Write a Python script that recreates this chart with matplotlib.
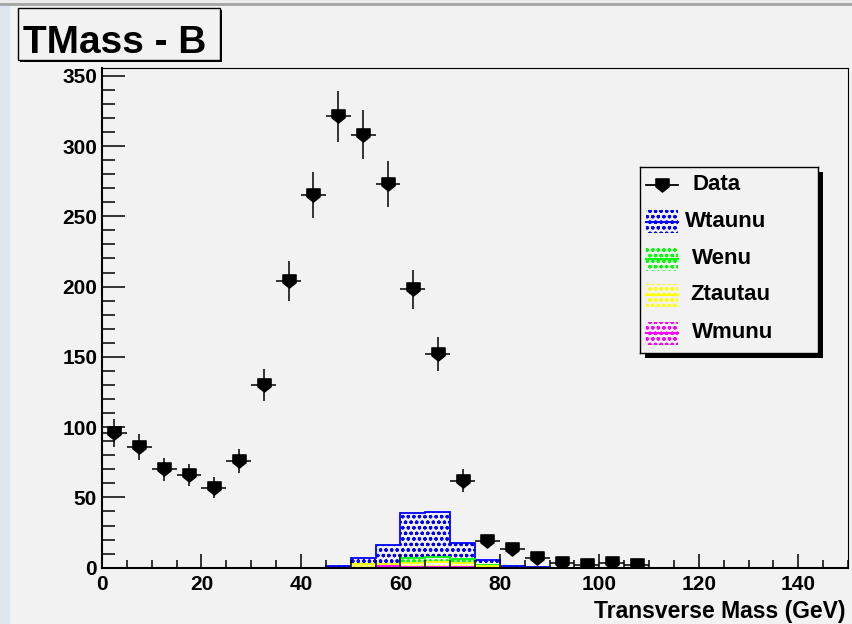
import numpy as np
import matplotlib
matplotlib.use("Agg")
import matplotlib.pyplot as plt
from matplotlib.path import Path
from matplotlib.patches import Rectangle
from matplotlib.lines import Line2D
from matplotlib.ticker import MultipleLocator

# data histogram (5 GeV bins)
data_x = [2.5, 7.5, 12.5, 17.5, 22.5, 27.5, 32.5, 37.5, 42.5, 47.5, 52.5,
          57.5, 62.5, 67.5, 72.5, 77.5, 82.5, 87.5, 92.5, 97.5, 102.5, 107.5]
data_y = [96, 86, 70, 66, 57, 76, 130, 204, 265, 321, 308,
          273, 198, 152, 62, 19, 13, 7, 3, 2, 3, 2]

# MC stack, bins 45..90
mc_edges = [45, 50, 55, 60, 65, 70, 75, 80, 85, 90]
wmunu = [0, 0, 1.5, 0.3, 0.3, 0.2, 0, 0, 0]
ztautau = [0, 2.5, 1.0, 3.0, 3.5, 3.0, 1.5, 0, 0]
wenu = [0, 0, 0.3, 3.5, 4.0, 2.7, 0.3, 0, 0]
wtaunu = [1.5, 4.5, 13.2, 32, 32, 12, 4, 1, 0.5]

x_ticks = [0, 20, 40, 60, 80, 100, 120, 140]
y_ticks = [0, 50, 100, 150, 200, 250, 300, 350]

BG = '#f2f2f2'
W, H = 852, 624

plt.rcParams['font.family'] = ['Liberation Sans', 'DejaVu Sans']
plt.rcParams['font.weight'] = 'bold'
plt.rcParams['hatch.linewidth'] = 0.9


def px(x0, y0, x1, y1):
    return [x0 / W, 1 - y1 / H, (x1 - x0) / W, (y1 - y0) / H]


def fig_rect(x0, y0, x1, y1, **kw):
    r = Rectangle((x0 / W, 1 - y1 / H), (x1 - x0) / W, (y1 - y0) / H,
                  transform=fig.transFigure, **kw)
    fig.add_artist(r)
    return r


fig = plt.figure(figsize=(W / 100, H / 100), dpi=100, facecolor=BG)

# window decorations of the screenshot
fig_rect(0, 0, 10, H, facecolor='#dde5ef', edgecolor='none')
fig_rect(0, 0, W, 3, facecolor='#ececec', edgecolor='none')
fig_rect(0, 3, W, 6, facecolor='#a8a8a8', edgecolor='none')

ax = fig.add_axes(px(102, 68, 848, 567.7))
ax.set_facecolor(BG)

# stacked MC, drawn ROOT style: biggest cumulative first
layers = [('Wmunu', wmunu, '#ff00ff'), ('Ztautau', ztautau, '#ffff00'),
          ('Wenu', wenu, '#00ff00'), ('Wtaunu', wtaunu, '#0000ff')]
cum = []
base = np.zeros(len(wtaunu))
for name, vals, col in layers:
    base = base + np.array(vals)
    cum.append((name, base.copy(), col))
for name, top, col in reversed(cum):
    ax.stairs(top, mc_edges, fill=True, facecolor=BG, edgecolor=col,
              hatch='ooo', linewidth=1.3, zorder=1)

# data points
marker = Path([(-1, 1), (1, 1), (1, -0.2), (0, -1), (-1, -0.2), (-1, 1)],
              [Path.MOVETO] + [Path.LINETO] * 4 + [Path.CLOSEPOLY])
ax.errorbar(data_x, data_y, yerr=np.sqrt(data_y), xerr=2.5, fmt='none',
            ecolor='k', elinewidth=1.1, capsize=0, zorder=3)
ax.plot(data_x, data_y, ls='none', marker=marker, ms=9.5, color='k', zorder=4)

ax.set_xlim(0, 150)
ax.set_ylim(0, 355.5)
ax.set_xticks(x_ticks)
ax.set_yticks(y_ticks)
ax.xaxis.set_minor_locator(MultipleLocator(5))
ax.yaxis.set_minor_locator(MultipleLocator(10))
ax.tick_params(which='both', direction='in', top=False, right=False,
               width=1.1, labelsize=15)
ax.tick_params(axis='y', which='major', length=16.5, pad=3.5)
ax.tick_params(axis='y', which='minor', length=9)
ax.tick_params(axis='x', which='major', length=10, pad=5)
ax.tick_params(axis='x', which='minor', length=6)
for s in ['left', 'bottom']:
    ax.spines[s].set_linewidth(1.5)
for s in ['top', 'right']:
    ax.spines[s].set_linewidth(0.8)

ax.set_xlabel('Transverse Mass (GeV)', fontsize=16.5, fontweight='bold')
ax.xaxis.label.set(ha='right', va='baseline')
ax.xaxis.set_label_coords((846 - 102) / 746, -(618 - 567.7) / 499.7)

# title box
fig_rect(20, 10, 222, 62, facecolor='k', edgecolor='none')
fig_rect(18, 8, 220, 60, facecolor=BG, edgecolor='k', linewidth=1)
fig.text(23 / W, 1 - 53 / H, 'TMass - B', fontsize=28, fontweight='bold',
         ha='left', va='baseline')

# legend
fig_rect(645, 172, 823, 358, facecolor='k', edgecolor='none', zorder=4)
leg = fig.add_axes(px(640, 167, 818, 353), zorder=5)
leg.set_facecolor(BG)
leg.set_xlim(0, 178)
leg.set_ylim(186, 0)
leg.set_xticks([])
leg.set_yticks([])
for s in leg.spines.values():
    s.set_linewidth(1)

rows = [18, 55, 92, 128, 166]
text_x = [52, 45, 52, 50, 52]
leg.plot([6, 38], [rows[0], rows[0]], color='k', lw=1.3)
leg.plot([22], [rows[0]], ls='none', marker=marker, ms=9.5, color='k')
leg.text(text_x[0], rows[0], 'Data', fontsize=16, va='center', ha='left')
for i, (name, top, col) in enumerate(reversed(cum), start=1):
    y = rows[i]
    leg.add_patch(Rectangle((6, y - 11.5), 32, 23, facecolor=BG,
                            edgecolor=col, linewidth=0, hatch='ooo'))
    leg.add_line(Line2D([6, 38], [y, y], color=col, lw=1.5))
    leg.text(text_x[i], y, name, fontsize=16, va='center', ha='left')

fig.savefig('out.png', dpi=100, facecolor=BG)
